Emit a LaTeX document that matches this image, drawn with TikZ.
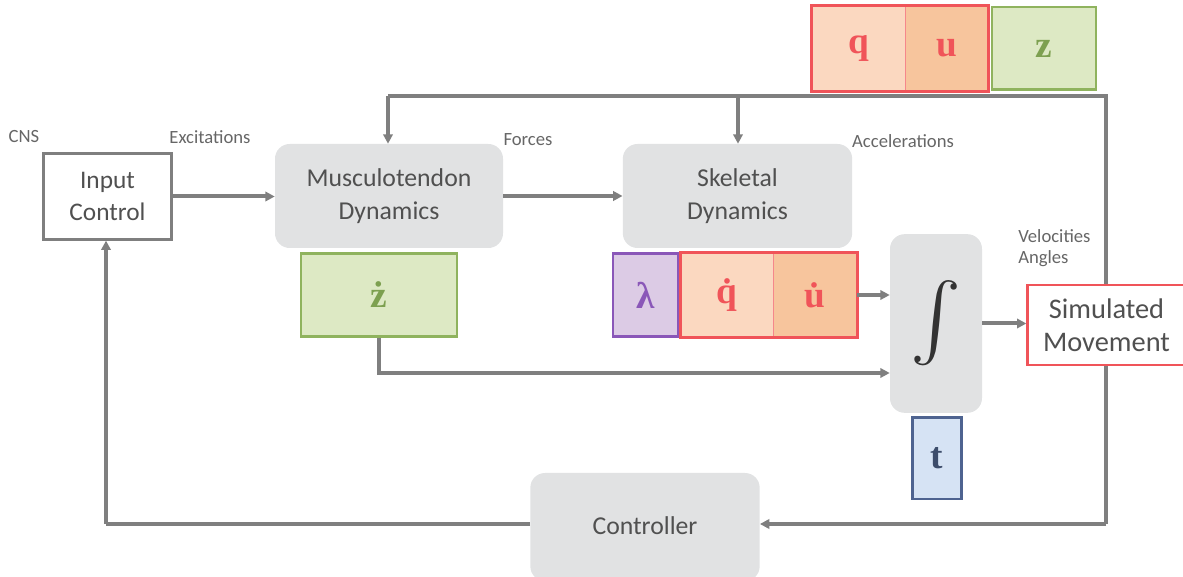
\documentclass[tikz,border=0pt]{standalone}
\usepackage{fontspec}
\usepackage{graphicx}
\setmainfont{Carlito}
\newfontfamily\symfont{Liberation Serif}
\usetikzlibrary{arrows.meta,backgrounds}
\definecolor{lineg}{HTML}{7F7F7F}
\definecolor{boxg}{HTML}{E1E2E3}
\definecolor{grfill}{HTML}{DDE9C4}
\definecolor{grline}{HTML}{8FB35E}
\definecolor{grtext}{HTML}{7DA050}
\definecolor{pufill}{HTML}{DCCBE5}
\definecolor{puline}{HTML}{8A57B8}
\definecolor{pklight}{HTML}{FBD8C0}
\definecolor{pkdark}{HTML}{F7C59D}
\definecolor{redl}{HTML}{F05459}
\definecolor{bufill}{HTML}{D6E3F4}
\definecolor{buline}{HTML}{4E6390}
\definecolor{butext}{HTML}{3D4D6B}
\definecolor{dtext}{HTML}{505050}
\definecolor{ltext}{HTML}{666666}
\begin{document}
\begin{tikzpicture}[x=0.75pt,y=-0.75pt,
  conn/.style={draw=lineg,line width=3pt},
  arr/.style={conn,-{Triangle[length=7pt,width=7pt]}},
  graybox/.style={fill=boxg,rounded corners=11pt,inner sep=0pt,align=center,text=dtext,font=\fontsize{19.3}{24.5}\selectfont},
  wbox/.style={line width=2.2pt,fill=white,inner sep=0pt,align=center,text=dtext},
  lbl/.style={text=ltext,font=\fontsize{14}{16}\selectfont,inner sep=0pt},
  symb/.style={inner sep=0pt,font=\symfont\bfseries\fontsize{28}{30}\selectfont},
]
\useasboundingbox (0,0) rectangle (1183,577);
% main boxes
\node[wbox,draw=lineg,minimum width=96pt,minimum height=64pt,font=\fontsize{19}{24}\selectfont] (In) at (107.5,196.5) {Input\\Control};
\node[graybox,minimum width=171pt,minimum height=78pt] (Musc) at (389,196) {Musculotendon\\Dynamics};
\node[graybox,minimum width=172pt,minimum height=78pt] (Skel) at (737.5,196) {Skeletal\\Dynamics};
\node[graybox,minimum width=69pt,minimum height=134pt,text=black!80] (Int) at (936,323.5) {\resizebox*{!}{64pt}{$\int$}};
\node[graybox,minimum width=172pt,minimum height=81pt] (Ctrl) at (645,527) {\raisebox{2pt}{Controller}};
\node[wbox,draw=redl,minimum width=118pt,minimum height=60pt,font=\fontsize{21.3}{25}\selectfont] (Sim) at (1106.5,325) {Simulated\\Movement};
% state boxes
\node[symb,fill=grfill,draw=grline,line width=2pt,minimum width=117pt,minimum height=62pt,text=grtext] (zd) at (379,295) {\.{z}};
\node[symb,fill=pufill,draw=puline,line width=2pt,minimum width=49pt,minimum height=62pt,text=puline] (lam) at (645.5,295) {λ};
\node[symb,fill=pklight,minimum width=69pt,minimum height=63pt,text=redl] (qd) at (727,295) {\.{q}};
\node[symb,fill=pkdark,minimum width=63pt,minimum height=63pt,text=redl] (ud) at (815,295) {\.{u}};
\draw[redl!70,line width=1pt] (qd.north east) -- (qd.south east);
\draw[redl,line width=2.2pt] (qd.north west) rectangle (ud.south east);
\node[symb,fill=bufill,draw=buline,line width=2pt,minimum width=37pt,minimum height=61pt,text=butext] (t) at (937,458.5) {t};
\node[symb,fill=pklight,minimum width=70pt,minimum height=64pt,text=redl] (q) at (858.5,48.5) {q};
\node[symb,fill=pkdark,minimum width=62pt,minimum height=64pt,text=redl] (u) at (946.5,48.5) {u};
\draw[redl!70,line width=1pt] (q.north east) -- (q.south east);
\draw[redl,line width=2.2pt] (q.north west) rectangle (u.south east);
\node[symb,fill=grfill,draw=grline,line width=2pt,minimum width=78pt,minimum height=62pt,text=grtext] (z) at (1044,48.5) {z};
% labels
\node[lbl] (cns) at (24,137) {CNS};
\node[lbl] (exc) at (210,137) {Excitations};
\node[lbl] (frc) at (528,140) {Forces};
\node[lbl] (acc) at (903,141) {Accelerations};
\node[lbl,anchor=west] (vel) at (1018,236) {Velocities};
\node[lbl,anchor=west] (ang) at (1018,259) {Angles};
% coordinates
\coordinate (tl) at (388,96);
\coordinate (tm) at (738,96);
\coordinate (tr) at (1106,96);
\coordinate (br) at (1106,524);
\coordinate (bl) at (106,524);
\path (Int.west) ++(0,49.5) coordinate (zin);
% connectors
\begin{scope}[on background layer]
\draw[conn] (tl) -- (tr) -- (br);
\end{scope}
\draw[arr] (tl) -- (tl |- Musc.north);
\draw[arr] (tm) -- (tm |- Skel.north);
\draw[arr] (br) -- (br -| Ctrl.east);
\draw[conn] (bl -| Ctrl.west) -- (bl);
\draw[arr] (bl) -- (bl |- In.south);
\draw[arr] (In.east) -- (In.east -| Musc.west);
\draw[arr] (Musc.east) -- (Musc.east -| Skel.west);
\draw[arr] (ud.east) -- (ud.east -| Int.west);
\draw[arr] (zd.south) |- (zin);
\draw[arr] (Int.east) -- (Int.east -| Sim.west);
\end{tikzpicture}
\end{document}
